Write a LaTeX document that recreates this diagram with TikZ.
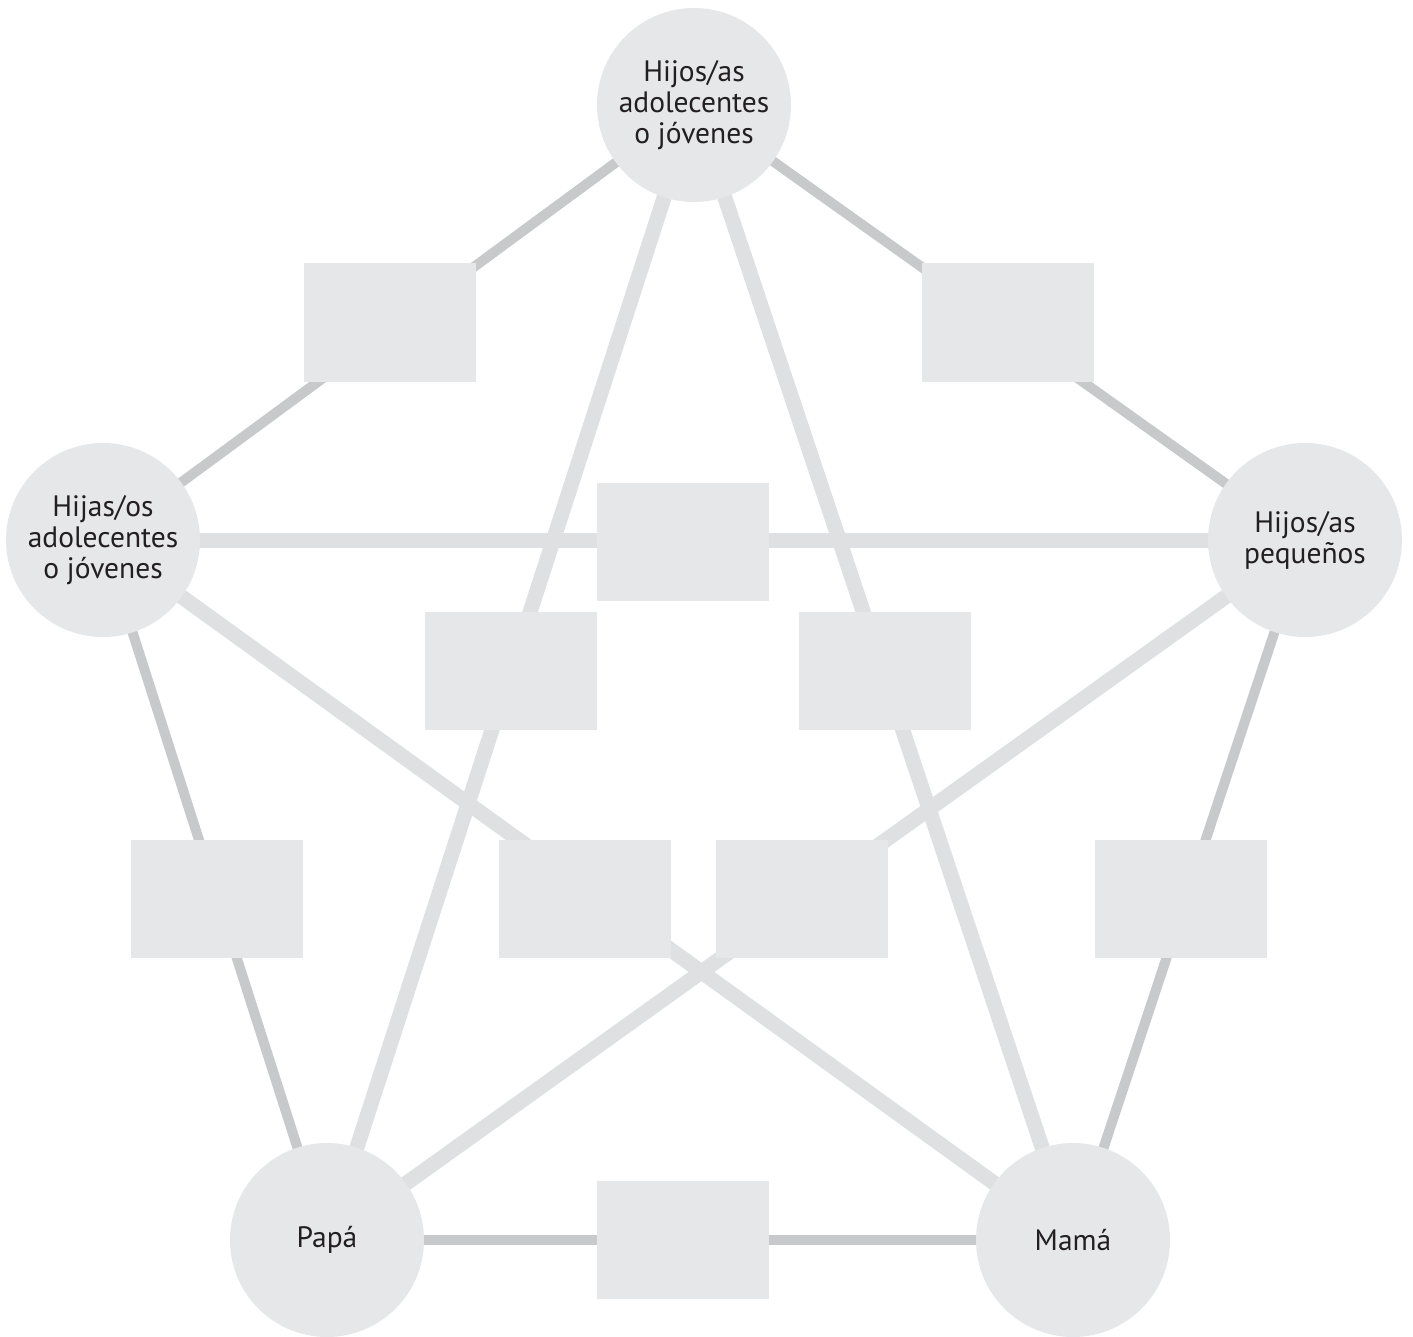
\documentclass[tikz,border=0pt]{standalone}
\usepackage{fontspec}
\setmainfont{PT Sans}
\definecolor{fillgray}{HTML}{E6E7E8}
\definecolor{outergray}{HTML}{C8C9CB}
\definecolor{innergray}{HTML}{DFE0E1}
\definecolor{textdark}{HTML}{231F20}
\tikzset{
  person/.style={circle, fill=fillgray, minimum size=194pt, inner sep=0pt, align=center, text=textdark, font=\fontsize{29.5}{31}\selectfont},
  slot/.style={rectangle, fill=fillgray, minimum width=172pt, minimum height=118pt, inner sep=0pt},
  outerlink/.style={draw=outergray, line width=10pt},
  innerlink/.style={draw=innergray, line width=15pt},
}
\begin{document}
\begin{tikzpicture}[x=1pt,y=-1pt]
\useasboundingbox (0,0) rectangle (1413,1337);
% circle centres
\coordinate (cT) at (694,105);
\coordinate (cL) at (103,540);
\coordinate (cR) at (1305,540);
\coordinate (cP) at (327,1240);
\coordinate (cM) at (1073,1240);
% links
\draw[outerlink] (cT) -- (cL);
\draw[outerlink] (cT) -- (cR);
\draw[outerlink] (cL) -- (cP);
\draw[outerlink] (cR) -- (cM);
\draw[outerlink] (cP) -- (cM);
\draw[innerlink] (cL) -- (cR);
\draw[innerlink] (cT) -- (cP);
\draw[innerlink] (cT) -- (cM);
\draw[innerlink] (cL) -- (cM);
\draw[innerlink] (cR) -- (cP);
% persons
\node[person] (top) at (cT) {Hijos/as\\adolecentes\\o jóvenes};
\node[person] (left) at (cL) {Hijas/os\\adolecentes\\o jóvenes};
\node[person] (right) at (cR) {Hijos/as\\pequeños};
\node[person] (papa) at (cP) {Papá};
\node[person] (mama) at (cM) {Mamá};
% slots
\node[slot] (s1) at (390,322.5) {};
\node[slot] (s2) at (1008,322.5) {};
\node[slot] (s3) at (683,542) {};
\node[slot] (s4) at (511,671) {};
\node[slot] (s5) at (885,671) {};
\node[slot] (s6) at (217,899) {};
\node[slot] (s7) at (585,899) {};
\node[slot] (s8) at (802,899) {};
\node[slot] (s9) at (1181,899) {};
\node[slot] (s10) at (683,1240) {};
\end{tikzpicture}
\end{document}
